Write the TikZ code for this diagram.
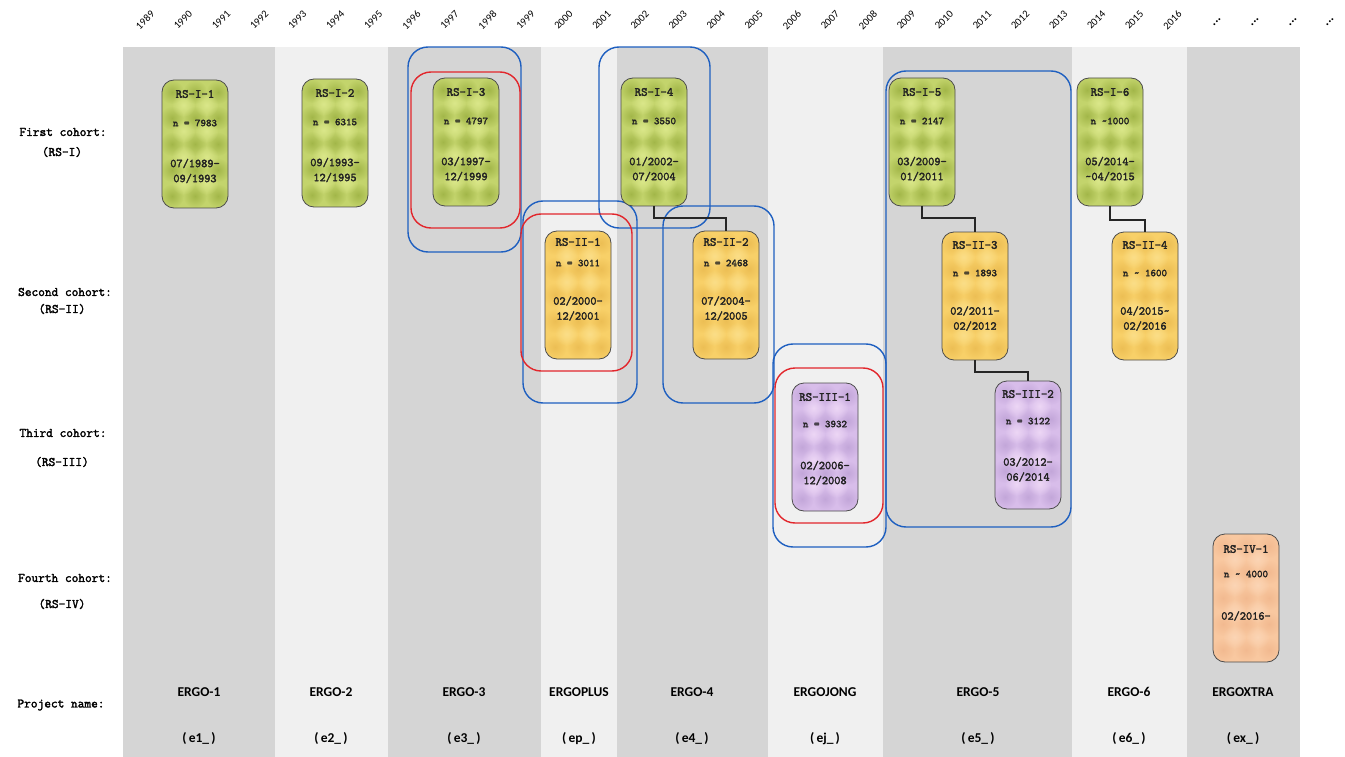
\documentclass[tikz,border=0pt]{standalone}
\usepackage{fontspec}
\newfontfamily\carlito{Carlito}
\newfontfamily\monob{Latin Modern Mono}[FakeBold=2.2]
\usetikzlibrary{fadings,calc}
\definecolor{bandA}{HTML}{D5D5D5}
\definecolor{bandB}{HTML}{F0F0F0}
\definecolor{gbase}{HTML}{C3D46C}
\definecolor{gdark}{HTML}{98AD3E}
\definecolor{glight}{HTML}{E3EE94}
\definecolor{obase}{HTML}{F8D068}
\definecolor{odark}{HTML}{E9B94E}
\definecolor{olight}{HTML}{FCE393}
\definecolor{pbase}{HTML}{D8BDEA}
\definecolor{pdark}{HTML}{BC9FD4}
\definecolor{plight}{HTML}{F4DFF9}
\definecolor{rbase}{HTML}{F9C8A0}
\definecolor{rdark}{HTML}{F0B58B}
\definecolor{rlight}{HTML}{FCD9BC}
\definecolor{oblue}{HTML}{1E5FC0}
\definecolor{ored}{HTML}{E2262C}
\definecolor{txt}{HTML}{222222}
\tikzfading[name=blob, inner color=transparent!25, outer color=transparent!100]
\tikzset{
  cbox/.style={minimum width=66pt, minimum height=128pt, inner sep=0pt, outer sep=0pt},
  boxline/.style={draw=black!70, line width=0.8pt},
  ttl/.style={font=\monob\fontsize{12.5}{14}\selectfont, text=txt, inner sep=0pt},
  nn/.style={font=\monob\fontsize{10.5}{12}\selectfont, text=txt, inner sep=0pt},
  dt/.style={font=\monob\fontsize{12}{15}\selectfont, text=txt, align=center, inner sep=0pt},
  lab/.style={font=\monob\fontsize{13}{15}\selectfont, text=black, inner sep=0pt},
  yr/.style={font=\carlito\fontsize{10.5}{12}\selectfont, text=black, rotate=45, inner sep=0pt},
  dotl/.style={font=\carlito\bfseries\fontsize{13}{14}\selectfont, text=black, rotate=45, inner sep=0pt},
  proj/.style={font=\carlito\bfseries\fontsize{13.5}{15}\selectfont, text=black, inner sep=0pt},
  code/.style={font=\carlito\bfseries\fontsize{13.5}{15}\selectfont, text=black, inner sep=0pt},
  conn/.style={draw=black!85, line width=1.5pt},
  blueo/.style={draw=oblue, line width=1.4pt, rounded corners=20pt},
  redo/.style={draw=ored, line width=1.4pt, rounded corners=20pt},
}
\newcommand{\oT}{14}\newcommand{\oN}{42}\newcommand{\oD}{90.5}
\newcommand{\setoff}[3]{\renewcommand{\oT}{#1}\renewcommand{\oN}{#2}\renewcommand{\oD}{#3}}
% #1 name, #2 centre x, #3 top y, #4 palette, #5 title, #6 n line, #7 dates
\newcommand{\cohort}[7]{%
  \node[cbox] (#1) at (#2,#3+64) {};
  \fill[#4base, rounded corners=12pt] (#1.north west) rectangle (#1.south east);
  \begin{scope}
    \clip[rounded corners=12pt] (#1.north west) rectangle (#1.south east);
    \foreach \bx in {10,33,56}{\foreach \by in {12,38,64,90,116}{
      \fill[#4dark, path fading=blob] ($(#1.north west)+(\bx,\by)$) circle (12pt);}}
    \foreach \bx in {21.5,44.5}{\foreach \by in {25,51,77,103}{
      \fill[#4light, path fading=blob] ($(#1.north west)+(\bx,\by)$) circle (12pt);}}
  \end{scope}
  \draw[boxline, rounded corners=12pt] (#1.north west) rectangle (#1.south east);
  \node[ttl] (#1t) at ($(#1.north)+(0,\oT)$) {#5};
  \node[nn] (#1n) at ($(#1.north)+(0,\oN)$) {#6};
  \node[dt] (#1d) at ($(#1.north)+(0,\oD)$) {#7};
}
\begin{document}
\begin{tikzpicture}[x=1pt,y=-1pt]
\useasboundingbox (0,0) rectangle (1345,757);
\fill[white] (0,0) rectangle (1345,757);
% bands
\foreach \a/\b/\c in {123/275/bandA,275/388/bandB,388/541/bandA,541/617/bandB,617/768/bandA,768/883/bandB,883/1072/bandA,1072/1187/bandB,1187/1300/bandA}
  \fill[\c] (\a,47) rectangle (\b,757);
% year labels
\foreach \yr [count=\i from 0] in {1989,...,2016}
  \node[yr] (y\yr) at (145+38.05*\i,20) {\yr};
\foreach \x [count=\k] in {1217,1255,1293,1330}
  \node[dotl] (dots\k) at (\x,22) {...};
% left labels
\node[lab] (l1a) at (63,132) {First cohort:};
\node[lab] (l1b) at (62,152) {(RS-I)};
\node[lab] (l2a) at (65,292) {Second cohort:};
\node[lab] (l2b) at (62,309) {(RS-II)};
\node[lab] (l3a) at (63,433) {Third cohort:};
\node[lab] (l3b) at (62,462) {(RS-III)};
\node[lab] (l4a) at (65,578) {Fourth cohort:};
\node[lab] (l4b) at (62,604) {(RS-IV)};
\node[lab] (l5) at (61,705) {Project name:};
% project names
\foreach \x/\n/\c [count=\k] in {199/ERGO-1/e1,331/ERGO-2/e2,464/ERGO-3/e3,579/ERGOPLUS/ep,692/ERGO-4/e4,825/ERGOJONG/ej,978/ERGO-5/e5,1129/ERGO-6/e6,1243/ERGOXTRA/ex}{
  \node[proj] (pn\k) at (\x,692) {\n};
  \node[code] (pc\k) at (\x,739) {(\,\c\_\,)};
}
% outlines
\draw[blueo] (408,47) rectangle (521,252);
\draw[redo] (411,72) rectangle (520,228);
\draw[blueo] (599,47) rectangle (710,228);
\draw[blueo] (523,201) rectangle (637,403);
\draw[redo] (521,214) rectangle (632,371);
\draw[blueo] (663,206) rectangle (774,403);
\draw[blueo] (773,344) rectangle (886,547);
\draw[redo] (775,368) rectangle (883,523);
\draw[blueo] (886,71) rectangle (1071,527);
% first cohort
\setoff{14}{43}{91}
\cohort{b11}{195}{80}{g}{RS-I-1}{n = 7983}{07/1989-\\09/1993}
\cohort{b12}{335}{79}{g}{RS-I-2}{n = 6315}{09/1993-\\12/1995}
\cohort{b13}{466}{78}{g}{RS-I-3}{n = 4797}{03/1997-\\12/1999}
\cohort{b14}{654}{78}{g}{RS-I-4}{n = 3550}{01/2002-\\07/2004}
\cohort{b15}{922}{78}{g}{RS-I-5}{n = 2147}{03/2009-\\01/2011}
\cohort{b16}{1110}{78}{g}{RS-I-6}{n \textasciitilde1000}{05/2014-\\\textasciitilde04/2015}
% second cohort
\setoff{11}{32}{77.5}
\cohort{b21}{578}{231}{o}{RS-II-1}{n = 3011}{02/2000-\\12/2001}
\cohort{b22}{726}{231}{o}{RS-II-2}{n = 2468}{07/2004-\\12/2005}
\setoff{13}{41}{86.5}
\cohort{b23}{975}{232}{o}{RS-II-3}{n = 1893}{02/2011-\\02/2012}
\cohort{b24}{1145}{232}{o}{RS-II-4}{n \textasciitilde{} 1600}{04/2015\textasciitilde\\02/2016}
% third cohort
\setoff{14}{41}{90}
\cohort{b31}{825}{383}{p}{RS-III-1}{n = 3932}{02/2006-\\12/2008}
\setoff{13}{40}{88.5}
\cohort{b32}{1028}{381}{p}{RS-III-2}{n = 3122}{03/2012-\\06/2014}
% fourth cohort
\setoff{15}{40}{82}
\cohort{b41}{1246}{534}{r}{RS-IV-1}{n \textasciitilde{} 4000}{02/2016-}
% connectors
\draw[conn] (b14.south) -- ++(0,12) -| (b22.north);
\draw[conn] (b15.south) -- ++(0,12) -| (b23.north);
\draw[conn] (b23.south) -- ++(0,12) -| (b32.north);
\draw[conn] (b16.south) -- ++(0,14) -| (b24.north);
\end{tikzpicture}
\end{document}
